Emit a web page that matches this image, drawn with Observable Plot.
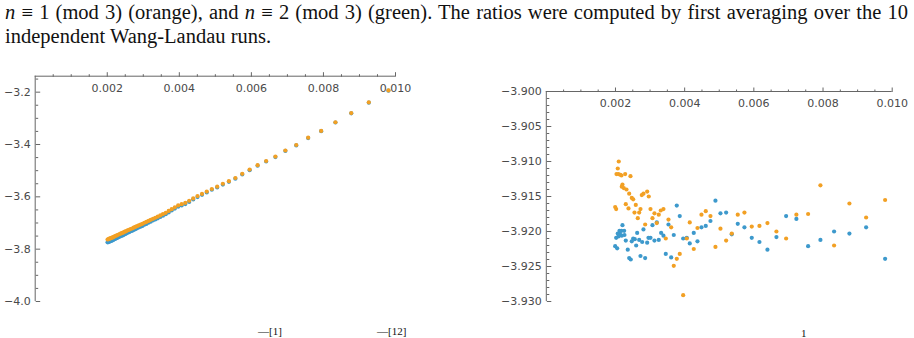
<!DOCTYPE html>
<html>
<head>
<meta charset="utf-8">
<script src="https://cdn.jsdelivr.net/npm/d3@7"></script>
<script src="https://cdn.jsdelivr.net/npm/@observablehq/plot@0.6"></script>
<style>
  html, body { margin: 0; padding: 0; background: #fff; width: 914px; height: 338px; overflow: hidden; }
  .cap { position: absolute; left: 5px; width: 903px; font-family: "Liberation Serif", serif; font-size: 20.5px; line-height: 24px; color: #111; white-space: normal; }
  #cap1 { top: 0px; text-align: justify; text-align-last: justify; }
  #cap2 { top: 24px; text-align: left; }
  #left { position: absolute; left: 0; top: 60px; }
  #right { position: absolute; left: 457px; top: 60px; }
  .frag { position: absolute; font-family: "Liberation Serif", serif; font-size: 11px; line-height: 11px; color: #111; white-space: nowrap; }
</style>
</head>
<body>
<div class="cap" id="cap1"><i>n</i> ≡ 1 (mod 3) (orange), and <i>n</i> ≡ 2 (mod 3) (green). The ratios were computed by first averaging over the 10</div>
<div class="cap" id="cap2">independent Wang-Landau runs.</div>
<div id="left"></div>
<div id="right"></div>
<div class="frag" style="left:258px; top:326px;">—[1]</div>
<div class="frag" style="left:377px; top:326px;">—[12]</div>
<div class="frag" style="left:801px; top:328px;">1</div>
<script>
// Left panel: ratio against 1/n (shared abscissa for both residue classes)
const leftX = [0.009804, 0.009259, 0.008772, 0.008333, 0.007937, 0.007576, 0.007246, 0.006944, 0.006667, 0.006410,
  0.006173, 0.005952, 0.005747, 0.005556, 0.005376, 0.005208, 0.005051, 0.004902, 0.004762, 0.004630,
  0.004505, 0.004386, 0.004274, 0.004167, 0.004065, 0.003968, 0.003876, 0.003788, 0.003704, 0.003623,
  0.003546, 0.003472, 0.003401, 0.003333, 0.003268, 0.003205, 0.003145, 0.003086, 0.003030, 0.002976,
  0.002924, 0.002874, 0.002825, 0.002778, 0.002732, 0.002688, 0.002646, 0.002604, 0.002564, 0.002525,
  0.002488, 0.002451, 0.002415, 0.002381, 0.002347, 0.002315, 0.002283, 0.002252, 0.002222, 0.002193,
  0.002165, 0.002137, 0.002110, 0.002083, 0.002058, 0.002033, 0.002008];
const leftOrange = [-3.1935, -3.239, -3.280, -3.315, -3.348, -3.374, -3.402, -3.423, -3.446, -3.463,
  -3.479, -3.496, -3.512, -3.528, -3.540, -3.550, -3.561, -3.570, -3.580, -3.589,
  -3.597, -3.606, -3.615, -3.623, -3.628, -3.633, -3.640, -3.647, -3.654, -3.661,
  -3.666, -3.671, -3.676, -3.680, -3.684, -3.688, -3.692, -3.696, -3.699, -3.703,
  -3.706, -3.709, -3.712, -3.715, -3.718, -3.721, -3.723, -3.726, -3.728, -3.731,
  -3.733, -3.736, -3.738, -3.740, -3.742, -3.744, -3.746, -3.748, -3.750, -3.752,
  -3.754, -3.756, -3.757, -3.759, -3.760, -3.762, -3.763];
const leftBlue = [-3.1945, -3.240, -3.281, -3.316, -3.349, -3.3755, -3.4035, -3.4245, -3.448, -3.465,
  -3.481, -3.498, -3.5145, -3.5305, -3.5425, -3.553, -3.564, -3.573, -3.5835, -3.5925,
  -3.601, -3.610, -3.6195, -3.6275, -3.633, -3.638, -3.645, -3.652, -3.6595, -3.6665,
  -3.672, -3.677, -3.682, -3.6865, -3.6905, -3.695, -3.699, -3.7035, -3.7065, -3.711,
  -3.714, -3.717, -3.7205, -3.7235, -3.727, -3.730, -3.732, -3.735, -3.7375, -3.7405,
  -3.743, -3.746, -3.748, -3.750, -3.752, -3.7545, -3.7565, -3.7585, -3.7605, -3.7625,
  -3.765, -3.767, -3.768, -3.770, -3.771, -3.773, -3.774];

// Right panel: refined estimate against 1/n
const rightOrangeX = [0.009795, 0.009246, 0.008763, 0.008320, 0.007925, 0.007569, 0.007230, 0.006933, 0.006653, 0.006393,
  0.006162, 0.005940, 0.005728, 0.005535, 0.005362, 0.005199, 0.005035, 0.004890, 0.004746, 0.004610,
  0.004486, 0.004370, 0.004263, 0.004147, 0.004061, 0.003957, 0.003858, 0.003772, 0.003685, 0.003610,
  0.003532, 0.003454, 0.003387, 0.003309, 0.003251, 0.003194, 0.003127, 0.003069, 0.003012, 0.002962,
  0.002916, 0.002858, 0.002809, 0.002760, 0.002723, 0.002685, 0.002645, 0.002587, 0.002549, 0.002512,
  0.002471, 0.002434, 0.002396, 0.002376, 0.002318, 0.002298, 0.002280, 0.002240, 0.002202, 0.002182,
  0.002173, 0.002145, 0.002095, 0.002087, 0.002066, 0.002029, 0.002020, 0.001991];
const rightOrangeY = [-3.9155, -3.9180, -3.9160, -3.9220, -3.9134, -3.9175, -3.9176, -3.9210, -3.9200, -3.9188,
  -3.9192, -3.9193, -3.9173, -3.9176, -3.9203, -3.9213, -3.9196, -3.9222, -3.9178, -3.9171,
  -3.9176, -3.9195, -3.9225, -3.9187, -3.9210, -3.9291, -3.9232, -3.9239, -3.9249, -3.9194,
  -3.9183, -3.9210, -3.9168, -3.9170, -3.9176, -3.9188, -3.9174, -3.9181, -3.9168, -3.9150,
  -3.9143, -3.9190, -3.9146, -3.9148, -3.9168, -3.9173, -3.9181, -3.9162, -3.9173, -3.9154,
  -3.9152, -3.9121, -3.9146, -3.9167, -3.9140, -3.9161, -3.9118, -3.9138, -3.9133, -3.9136,
  -3.9120, -3.9119, -3.9100, -3.9118, -3.9110, -3.9118, -3.9168, -3.9165];
const rightBlueX = [0.009795, 0.009246, 0.008763, 0.008320, 0.007925, 0.007569, 0.007230, 0.006933, 0.006653, 0.006393,
  0.006162, 0.005940, 0.005728, 0.005535, 0.005362, 0.005199, 0.005035, 0.004890, 0.004746, 0.004610,
  0.004486, 0.004370, 0.004263, 0.004147, 0.004061, 0.003957, 0.003858, 0.003772, 0.003685, 0.003610,
  0.003532, 0.003454, 0.003387, 0.003320, 0.003252, 0.003194, 0.003127, 0.003069, 0.003012, 0.002954,
  0.002916, 0.002858, 0.002809, 0.002772, 0.002723, 0.002685, 0.002627, 0.002598, 0.002558, 0.002512,
  0.002471, 0.002442, 0.002396, 0.002355, 0.002298, 0.002260, 0.002251, 0.002202, 0.002182, 0.002173,
  0.002124, 0.002116, 0.002087, 0.002066, 0.002049, 0.002020, 0.001991];
const rightBlueY = [-3.9239, -3.9194, -3.9203, -3.9200, -3.9212, -3.9221, -3.9182, -3.9178, -3.9208, -3.9226,
  -3.9215, -3.9209, -3.9194, -3.9189, -3.9204, -3.9173, -3.9174, -3.9156, -3.9185, -3.9192,
  -3.9194, -3.9214, -3.9202, -3.9217, -3.9209, -3.9210, -3.9178, -3.9163, -3.9205, -3.9237,
  -3.9190, -3.9232, -3.9206, -3.9202, -3.9212, -3.9187, -3.9213, -3.9191, -3.9209, -3.9209,
  -3.9216, -3.9238, -3.9197, -3.9215, -3.9235, -3.9212, -3.9202, -3.9220, -3.9211, -3.9210,
  -3.9214, -3.9240, -3.9238, -3.9226, -3.9213, -3.9205, -3.9199, -3.9191, -3.9206, -3.9199,
  -3.9203, -3.9199, -3.9207, -3.9203, -3.9224, -3.9209, -3.9221];

// Tick values
const xMajorTicks = [0.002, 0.004, 0.006, 0.008, 0.010];
const xMinorTicks = [0.0005, 0.001, 0.0015, 0.0025, 0.003, 0.0035, 0.0045, 0.005, 0.0055, 0.0065, 0.007, 0.0075, 0.0085, 0.009, 0.0095];
const leftYMajor = [-4.0, -3.8, -3.6, -3.4, -3.2];
const leftYMinor = [-3.95, -3.9, -3.85, -3.75, -3.7, -3.65, -3.55, -3.5, -3.45, -3.35, -3.3, -3.25, -3.15];
const rightYMajor = [-3.930, -3.925, -3.920, -3.915, -3.910, -3.905, -3.900];
const rightYMinor = [-3.929, -3.928, -3.927, -3.926, -3.924, -3.923, -3.922, -3.921, -3.919, -3.918, -3.917, -3.916,
  -3.914, -3.913, -3.912, -3.911, -3.909, -3.908, -3.907, -3.906, -3.904, -3.903, -3.902, -3.901];

const BLUE = "#3d99cc";
const ORANGE = "#f2a024";
const AXIS = "#666666";
const LABEL = "#4a4a4a";

// Axes crossing at the upper-left corner: x ticks point up with labels underneath,
// y ticks point into the plot with labels on the left.
function crossedAxes(xDomain, yTop, yBottom, yMajor, yMinor, yFormat) {
  return [
    Plot.ruleY([yTop], {stroke: AXIS, strokeWidth: 1}),
    Plot.ruleX([xDomain[0]], {stroke: AXIS, strokeWidth: 1}),
    Plot.axisX(xMinorTicks, {anchor: "top", tickSize: 2.5, stroke: AXIS, fill: "none", label: null}),
    Plot.axisX(xMajorTicks, {anchor: "top", tickSize: 4.5, stroke: AXIS, fill: "none", label: null}),
    Plot.axisX(xMajorTicks, {anchor: "bottom", frameAnchor: "top", tickSize: 0, tickPadding: 7.5,
      tickFormat: d3.format(".3f"), fill: LABEL, label: null}),
    Plot.axisY(yMinor, {anchor: "right", frameAnchor: "left", tickSize: 2.5, stroke: AXIS, fill: "none", label: null}),
    Plot.axisY(yMajor, {anchor: "right", frameAnchor: "left", tickSize: 4.5, stroke: AXIS, fill: "none", label: null}),
    Plot.axisY(yMajor, {anchor: "left", tickSize: 0, tickPadding: 4.5, tickFormat: yFormat, fill: LABEL, label: null})
  ];
}

const common = {
  width: 457,
  height: 260,
  marginBottom: 19,
  style: {fontFamily: "'DejaVu Sans', sans-serif", fontSize: "11px", background: "transparent", overflow: "visible"}
};

const leftPlot = Plot.plot({
  ...common,
  marginLeft: 34.7,
  marginRight: 62,
  marginTop: 15.7,
  x: {domain: [0, 0.010], label: null},
  y: {domain: [-4.0, -3.139], label: null},
  marks: [
    ...crossedAxes([0, 0.010], -3.139, -4.0, leftYMajor, leftYMinor, d3.format(".1f")),
    Plot.dot(leftBlue, {x: leftX, y: leftBlue, r: 2.1, fill: BLUE, stroke: "none"}),
    Plot.dot(leftOrange, {x: leftX, y: leftOrange, r: 2.1, fill: ORANGE, stroke: "none"})
  ]
});
document.getElementById("left").appendChild(leftPlot);

const rightPlot = Plot.plot({
  ...common,
  marginLeft: 88.8,
  marginRight: 22.3,
  marginTop: 31,
  x: {domain: [0, 0.010], label: null},
  y: {domain: [-3.930, -3.900], label: null},
  marks: [
    ...crossedAxes([0, 0.010], -3.900, -3.930, rightYMajor, rightYMinor, d3.format(".3f")),
    Plot.dot(rightBlueY, {x: rightBlueX, y: rightBlueY, r: 2.1, fill: BLUE, stroke: "none"}),
    Plot.dot(rightOrangeY, {x: rightOrangeX, y: rightOrangeY, r: 2.1, fill: ORANGE, stroke: "none"})
  ]
});
document.getElementById("right").appendChild(rightPlot);
</script>
</body>
</html>
